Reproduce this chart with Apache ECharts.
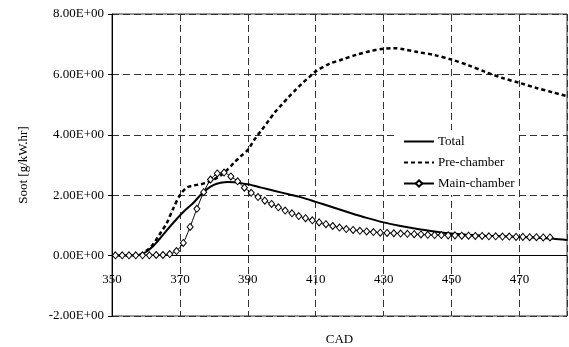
<!DOCTYPE html>
<html>
<head>
<meta charset="utf-8">
<script src="https://cdn.jsdelivr.net/npm/echarts@6/dist/echarts.min.js"></script>
<style>
  html, body { margin: 0; padding: 0; background: #fff; }
  #chart { width: 569px; height: 347px; }
</style>
</head>
<body>
<div id="chart"></div>
<script>
const xTicks = [350, 370, 390, 410, 430, 450, 470];
const yTicks = [-2, 0, 2, 4, 6, 8];

const totalCad = [350, 356, 358, 360, 362, 364, 366, 368, 370, 372, 374, 376, 378, 380, 382, 384, 386, 388, 390,
  394, 398, 402, 406, 410, 415, 420, 425, 430, 435, 440, 445, 450, 455, 460, 465, 470, 475, 480, 484];
const totalSoot = [0, 0, 0.02, 0.12, 0.3, 0.55, 0.82, 1.08, 1.33, 1.55, 1.75, 2.0, 2.2, 2.34, 2.41, 2.44, 2.43, 2.4, 2.36,
  2.25, 2.14, 2.03, 1.92, 1.78, 1.6, 1.42, 1.25, 1.1, 0.98, 0.88, 0.8, 0.73, 0.69, 0.66, 0.64, 0.62, 0.59, 0.56, 0.52];

const preCad = [350, 356, 358, 360, 362, 364, 366, 368, 370, 372, 374, 376, 378, 380, 382, 384, 386, 388, 390,
  392, 394, 396, 398, 400, 402, 404, 406, 408, 410, 414, 418, 422, 426, 430, 433, 436, 440, 445, 450, 455, 460,
  465, 470, 475, 480, 484];
const preSoot = [0, 0, 0.02, 0.15, 0.36, 0.7, 1.05, 1.55, 2.0, 2.25, 2.32, 2.36, 2.42, 2.52, 2.65, 2.85, 3.08, 3.3, 3.5,
  3.85, 4.15, 4.45, 4.75, 5.0, 5.25, 5.48, 5.7, 5.9, 6.1, 6.35, 6.5, 6.65, 6.77, 6.85, 6.87, 6.83, 6.74, 6.64, 6.49, 6.3, 6.08,
  5.88, 5.72, 5.55, 5.4, 5.28];

const mainCad = [351, 353, 355, 357, 359, 361, 363, 365, 367, 369, 371, 373, 375, 377, 379, 381, 383, 385, 387, 389,
  391, 393, 395, 397, 399, 401, 403, 405, 407, 409, 411, 413, 415, 417, 419, 421, 423, 425, 427, 429, 431, 433, 435,
  437, 439, 441, 443, 445, 447, 449, 451, 453, 455, 457, 459, 461, 463, 465, 467, 469, 471, 473, 475, 477, 479];
const mainSoot = [0.01, 0.01, 0.01, 0.01, 0.01, 0.01, 0.02, 0.02, 0.05, 0.15, 0.42, 0.95, 1.55, 2.1, 2.52, 2.72, 2.75, 2.62, 2.46, 2.25,
  2.08, 1.94, 1.82, 1.71, 1.6, 1.49, 1.4, 1.31, 1.24, 1.17, 1.1, 1.04, 0.98, 0.93, 0.88, 0.85, 0.82, 0.8, 0.78, 0.76, 0.75, 0.74, 0.73,
  0.72, 0.71, 0.7, 0.69, 0.68, 0.68, 0.67, 0.67, 0.66, 0.66, 0.65, 0.65, 0.64, 0.64, 0.63, 0.63, 0.62, 0.62, 0.61, 0.61, 0.6, 0.6];

const font = 'Liberation Serif, "Times New Roman", serif';
const pairs = (xs, ys) => xs.map((x, i) => [x, ys[i]]);

const chart = echarts.init(document.getElementById('chart'), null, { renderer: 'canvas' });

const gridLine = { show: true, lineStyle: { color: '#333', type: [7, 4], width: 1 } };

chart.setOption({
  animation: false,
  backgroundColor: '#fff',
  textStyle: { fontFamily: font, color: '#000' },
  grid: {
    left: 112, right: 2, top: 14, bottom: 31,
    outerBoundsMode: 'none',
    containLabel: false,
    show: true, borderColor: '#333', borderWidth: 1, backgroundColor: 'transparent'
  },
  legend: {
    orient: 'vertical',
    left: 397,
    top: 130,
    padding: [5, 4, 5, 6],
    itemWidth: 30,
    itemHeight: 8,
    itemGap: 8,
    backgroundColor: '#fff',
    textStyle: { fontFamily: font, fontSize: 13, color: '#000', padding: [0, 0, 0, -1] },
    data: [
      { name: 'Total', itemStyle: { opacity: 0 } },
      { name: 'Pre-chamber', itemStyle: { opacity: 0 } },
      { name: 'Main-chamber' }
    ]
  },
  xAxis: {
    type: 'value',
    min: 350,
    max: 484,
    interval: 20,
    offset: -61,
    name: 'CAD',
    nameLocation: 'middle',
    nameGap: 78,
    nameTextStyle: { fontFamily: font, fontSize: 13, color: '#000' },
    axisLine: { show: true, onZero: false, lineStyle: { color: '#000', width: 1 } },
    axisTick: { show: false },
    axisLabel: {
      margin: 18,
      fontFamily: font,
      fontSize: 13,
      color: '#000',
      showMaxLabel: false,
      formatter: v => (xTicks.indexOf(v) >= 0 ? String(v) : '')
    },
    splitLine: gridLine
  },
  yAxis: {
    type: 'value',
    min: yTicks[0],
    max: yTicks[yTicks.length - 1],
    interval: 2,
    name: 'Soot [g/kW.hr]',
    nameLocation: 'middle',
    nameGap: 82,
    nameTextStyle: { fontFamily: font, fontSize: 13, color: '#000' },
    axisLine: { show: true, onZero: false, lineStyle: { color: '#000', width: 1 } },
    axisTick: { show: true, length: 4, lineStyle: { color: '#000' } },
    axisLabel: {
      margin: 8,
      fontFamily: font,
      fontSize: 13,
      color: '#000',
      formatter: v => (v < 0 ? '-' : '') + Math.abs(v).toFixed(2) + 'E+00'
    },
    splitLine: gridLine
  },
  series: [
    {
      name: 'Total',
      type: 'line',
      data: pairs(totalCad, totalSoot),
      smooth: 0.3,
      symbol: 'none',
      lineStyle: { color: '#000', width: 2 },
      itemStyle: { color: '#000' },
      z: 3
    },
    {
      name: 'Pre-chamber',
      type: 'line',
      data: pairs(preCad, preSoot),
      smooth: 0.3,
      symbol: 'none',
      lineStyle: { color: '#000', width: 2.5, type: [4, 3] },
      itemStyle: { color: '#000' },
      z: 2
    },
    {
      name: 'Main-chamber',
      type: 'line',
      data: pairs(mainCad, mainSoot),
      smooth: 0.2,
      symbol: 'diamond',
      symbolSize: [6, 7],
      showAllSymbol: true,
      lineStyle: { color: '#000', width: 1 },
      itemStyle: { color: '#fff', borderColor: '#000', borderWidth: 1 },
      z: 4
    }
  ]
});
</script>
</body>
</html>
